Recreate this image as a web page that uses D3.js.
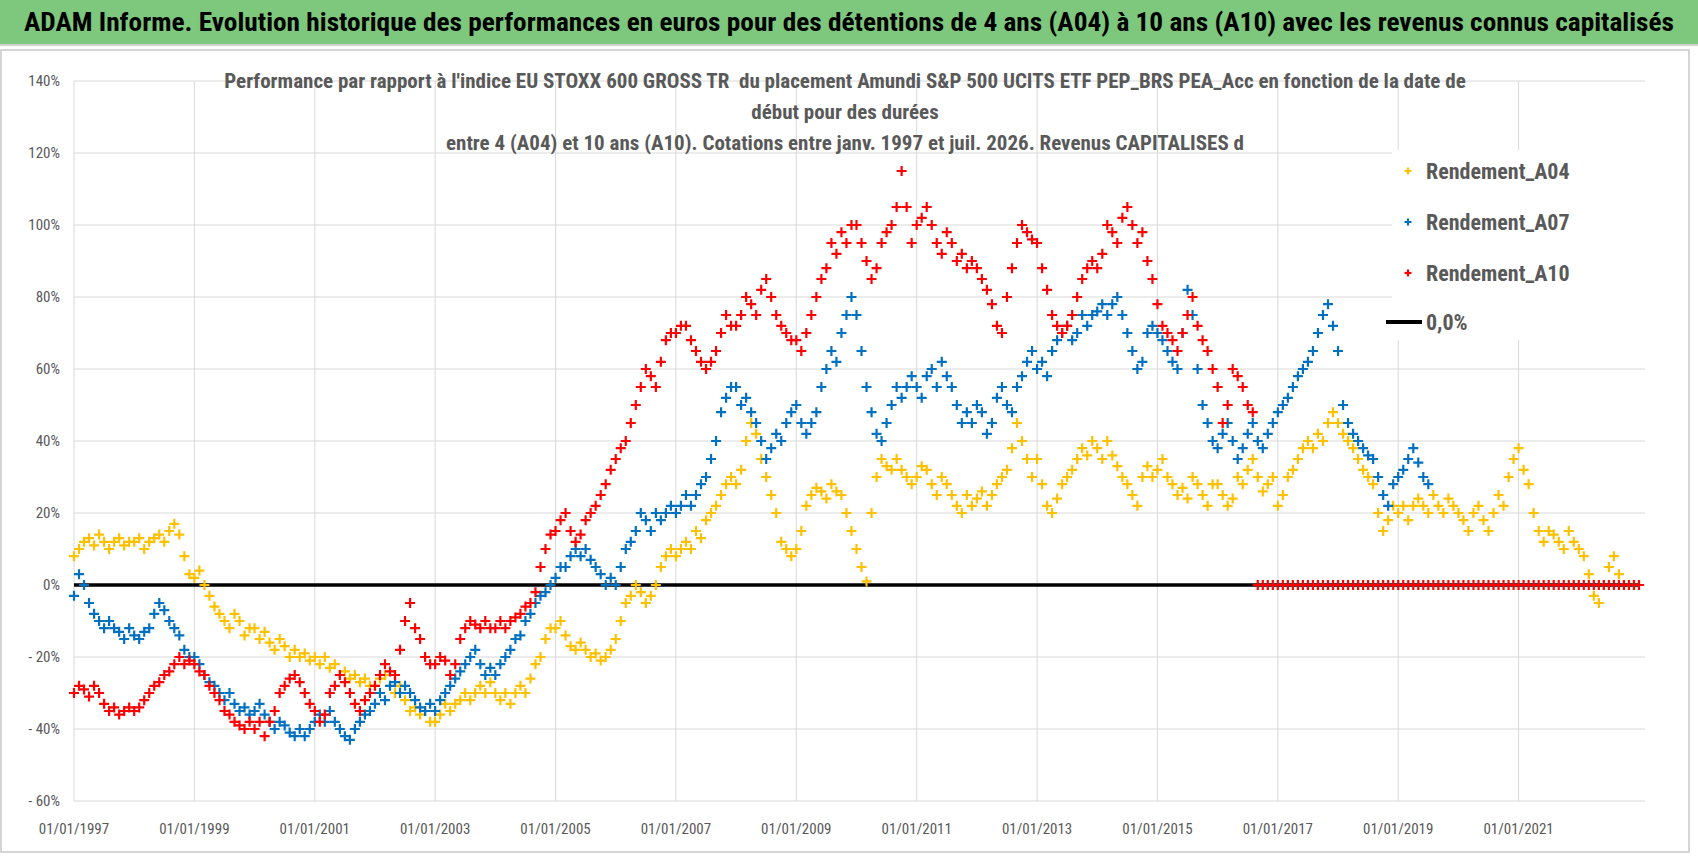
<!DOCTYPE html>
<meta charset="utf-8">
<script src="https://d3js.org/d3.v7.min.js"></script>
<style>
body { margin: 0; background: #fff; }
* { font-family: "Liberation Sans Narrow", "Arial Narrow", "Roboto Condensed", sans-serif; }
</style>
<div id="chart"></div>
<script>
// monthly values (%), first value = January 1997
const startYear = 1997;
const rendA04 = [
  8,10,12,13,11,14,12,10,12,13,11,12,
  12,13,10,12,13,14,12,15,17,14,8,3,
  2,4,0,-3,-6,-8,-10,-12,-8,-10,-14,-12,
  -12,-15,-13,-16,-18,-15,-17,-20,-18,-20,-19,-21,
  -20,-22,-20,-23,-22,-25,-24,-26,-25,-27,-26,-28,
  -28,-26,-25,-28,-30,-28,-32,-35,-34,-36,-35,-38,
  -38,-36,-33,-35,-33,-32,-30,-32,-30,-28,-30,-27,
  -30,-32,-30,-33,-30,-28,-30,-26,-22,-20,-15,-12,
  -12,-10,-14,-17,-18,-16,-18,-20,-19,-21,-20,-18,
  -15,-10,-5,-3,0,-2,-5,-3,0,5,8,10,
  8,10,12,10,15,13,18,20,22,25,28,30,
  28,32,40,45,42,35,30,25,20,12,10,8,
  10,15,22,25,27,26,24,28,26,25,20,15,
  10,5,1,20,30,35,33,32,35,32,30,28,
  30,33,32,28,25,30,28,25,22,20,25,22,
  24,26,22,25,28,30,32,38,45,40,35,30,
  35,28,22,20,24,28,30,32,35,38,36,40,
  38,35,40,36,33,30,28,25,22,30,33,30,
  32,35,30,28,25,27,24,30,28,25,22,28,
  28,25,22,24,30,28,32,35,30,26,28,30,
  22,25,30,32,35,38,40,38,42,40,45,48,
  45,42,40,38,35,32,30,28,20,15,18,22,
  20,22,18,22,24,22,20,25,22,20,24,22,
  20,18,15,20,22,18,15,20,25,22,30,35,
  38,32,28,20,15,12,15,14,12,10,15,12,
  10,8,3,-3,-5,0,5,8,3,0,0,0,
  0
];
const rendA07 = [
  -3,3,0,-5,-8,-10,-12,-10,-12,-13,-15,-12,
  -14,-15,-13,-12,-8,-5,-7,-10,-12,-14,-18,-20,
  -20,-22,-25,-27,-28,-30,-32,-30,-33,-35,-34,-36,
  -35,-33,-36,-38,-40,-38,-39,-41,-42,-40,-42,-40,
  -38,-36,-38,-35,-38,-40,-42,-43,-40,-38,-36,-35,
  -33,-30,-32,-28,-27,-30,-28,-30,-32,-34,-35,-33,
  -35,-32,-30,-28,-26,-24,-22,-20,-18,-22,-25,-23,
  -25,-22,-20,-18,-15,-14,-10,-8,-5,-3,-2,0,
  2,5,5,8,10,8,10,7,5,3,0,2,
  0,5,10,12,15,20,18,15,20,18,20,22,
  20,22,25,22,25,28,30,35,40,48,52,55,
  55,50,52,48,45,40,35,38,42,40,45,48,
  50,45,42,45,48,55,60,65,62,70,75,80,
  75,65,55,48,42,40,45,50,55,52,55,58,
  55,52,58,60,55,62,58,55,50,45,48,45,
  50,48,42,45,52,55,50,48,55,58,62,65,
  60,62,58,65,68,70,72,68,70,75,72,75,
  76,78,75,78,80,75,70,65,60,62,70,72,
  70,68,65,62,60,70,82,75,60,50,45,40,
  38,42,45,40,35,38,42,45,40,38,42,45,
  48,50,52,55,58,60,62,65,70,75,78,72,
  65,50,45,42,40,38,36,35,30,25,22,28,
  30,32,35,38,34,30,28
];
const rendA10 = [
  -30,-28,-29,-31,-28,-30,-33,-35,-34,-36,-35,-34,
  -35,-34,-32,-30,-28,-27,-25,-24,-22,-20,-22,-21,
  -22,-24,-25,-28,-30,-32,-35,-36,-38,-39,-40,-38,
  -40,-38,-42,-38,-35,-30,-28,-26,-25,-27,-30,-33,
  -35,-38,-36,-30,-28,-25,-27,-30,-33,-35,-32,-30,
  -28,-25,-22,-24,-25,-18,-10,-5,-12,-15,-20,-22,
  -22,-20,-21,-25,-22,-15,-12,-10,-11,-12,-10,-12,
  -12,-10,-12,-10,-9,-8,-6,-5,-2,5,10,14,
  15,18,20,15,12,14,18,20,22,25,28,32,
  35,38,40,45,50,55,60,58,55,62,68,70,
  70,72,72,68,65,62,60,62,65,70,75,72,
  72,75,80,78,75,82,85,80,75,72,70,68,
  68,65,70,75,80,85,88,95,92,98,95,100,
  100,95,90,85,88,95,98,100,105,115,105,95,
  100,102,105,100,95,92,98,95,90,92,88,90,
  88,85,82,78,72,70,80,88,95,100,98,96,
  95,88,82,75,72,70,72,75,80,85,88,90,
  88,92,100,98,95,102,105,100,95,98,90,85,
  78,72,70,68,65,70,75,80,72,68,65,60,
  55,45,50,60,58,55,50,48,0,0,0,0,
  0,0,0,0,0,0,0,0,0,0,0,0,
  0,0,0,0,0,0,0,0,0,0,0,0,
  0,0,0,0,0,0,0,0,0,0,0,0,
  0,0,0,0,0,0,0,0,0,0,0,0,
  0,0,0,0,0,0,0,0,0,0,0,0,
  0,0,0,0,0,0,0,0,0,0,0,0,
  0
];
const seriesNames = ["Rendement_A04", "Rendement_A07", "Rendement_A10"];
const seriesColors = ["#ffc000", "#0070c0", "#ff0000"];
const yTicks = [-60, -40, -20, 0, 20, 40, 60, 80, 100, 120, 140];
const xTickYears = [1997, 1999, 2001, 2003, 2005, 2007, 2009, 2011, 2013, 2015, 2017, 2019, 2021];

const W = 1698, H = 856;
const svg = d3.select("#chart").append("svg").attr("width", W).attr("height", H);

// banner
svg.append("rect").attr("x", 0).attr("y", 0).attr("width", W).attr("height", 44).attr("fill", "#7dc87d");
svg.append("line").attr("x1", 0).attr("x2", W).attr("y1", 45).attr("y2", 45).attr("stroke", "#d0d0d0").attr("stroke-width", 2);
svg.append("text").attr("x", 849).attr("y", 31).attr("text-anchor", "middle")
  .style("font-size", "26px").style("font-weight", "bold").attr("fill", "#000")
  .attr("textLength", 1650).attr("lengthAdjust", "spacingAndGlyphs")
  .text("ADAM Informe. Evolution historique des performances en euros pour des détentions de 4 ans (A04) à 10 ans (A10) avec les revenus connus capitalisés");

// chart frame
svg.append("rect").attr("x", 1).attr("y", 50).attr("width", 1688).attr("height", 802)
  .attr("fill", "none").attr("stroke", "#c8c8c8").attr("stroke-width", 1.5);

const x = d3.scaleLinear().domain([1997, 2023.1]).range([74, 1645]);
const y = d3.scaleLinear().domain([-60, 140]).range([801, 81]);

const g = svg.append("g");
g.selectAll(".hg").data(yTicks).join("line")
  .attr("x1", x(1997)).attr("x2", x(2023.1)).attr("y1", d => y(d)).attr("y2", d => y(d))
  .attr("stroke", "#d9d9d9").attr("stroke-width", 1);
g.selectAll(".vg").data(xTickYears).join("line")
  .attr("x1", d => x(d)).attr("x2", d => x(d)).attr("y1", y(140)).attr("y2", y(-60))
  .attr("stroke", "#d9d9d9").attr("stroke-width", 1);

g.selectAll(".yl").data(yTicks).join("text")
  .attr("x", 60).attr("y", d => y(d) + 5).attr("text-anchor", "end")
  .attr("fill", "#595959").style("font-size", "15px")
  .text(d => d < 0 ? "- " + Math.abs(d) + "%" : d + "%");
g.selectAll(".xl").data(xTickYears).join("text")
  .attr("x", d => x(d)).attr("y", 834).attr("text-anchor", "middle")
  .attr("fill", "#595959").style("font-size", "15px")
  .text(d => "01/01/" + d);

// subtitle
const sub = ["Performance par rapport à l'indice EU STOXX 600 GROSS TR  du placement Amundi S&P 500 UCITS ETF PEP_BRS PEA_Acc en fonction de la date de",
  "début pour des durées", "entre 4 (A04) et 10 ans (A10). Cotations entre janv. 1997 et juil. 2026. Revenus CAPITALISES d"];
svg.selectAll(".sub").data(sub).join("text")
  .attr("x", 845).attr("y", (d, i) => 88 + i * 31).attr("text-anchor", "middle")
  .attr("fill", "#595959").style("font-size", "21px").style("font-weight", "bold")
  .style("white-space", "pre").text(d => d);

// zero line
g.append("line").attr("x1", x(1997)).attr("x2", x(2023)).attr("y1", y(0)).attr("y2", y(0))
  .attr("stroke", "#000").attr("stroke-width", 3.5);

// points
function plus(sel, color, r = 5) {
  sel.attr("d", `M-${r},0H${r}M0,-${r}V${r}`).attr("stroke", color).attr("stroke-width", 2.2).attr("fill", "none");
}
[rendA04, rendA07, rendA10].forEach((vals, k) => {
  g.append("g").selectAll("path").data(vals).join("path")
    .attr("transform", (d, i) => `translate(${x(startYear + i / 12)},${y(d)})`)
    .call(plus, seriesColors[k]);
});

// legend
const leg = svg.append("g");
leg.append("rect").attr("x", 1392).attr("y", 150).attr("width", 290).attr("height", 190).attr("fill", "#fff");
seriesNames.forEach((n, i) => {
  const ly = 171 + i * 51;
  leg.append("path").attr("transform", `translate(1408,${ly})`).call(plus, seriesColors[i], 3.5);
  leg.append("text").attr("x", 1426).attr("y", ly + 8).attr("fill", "#595959")
    .style("font-size", "22px").style("font-weight", "bold").text(n);
});
leg.append("line").attr("x1", 1386).attr("x2", 1422).attr("y1", 322).attr("y2", 322).attr("stroke", "#000").attr("stroke-width", 4);
leg.append("text").attr("x", 1426).attr("y", 330).attr("fill", "#595959")
  .style("font-size", "22px").style("font-weight", "bold").text("0,0%");
</script>
